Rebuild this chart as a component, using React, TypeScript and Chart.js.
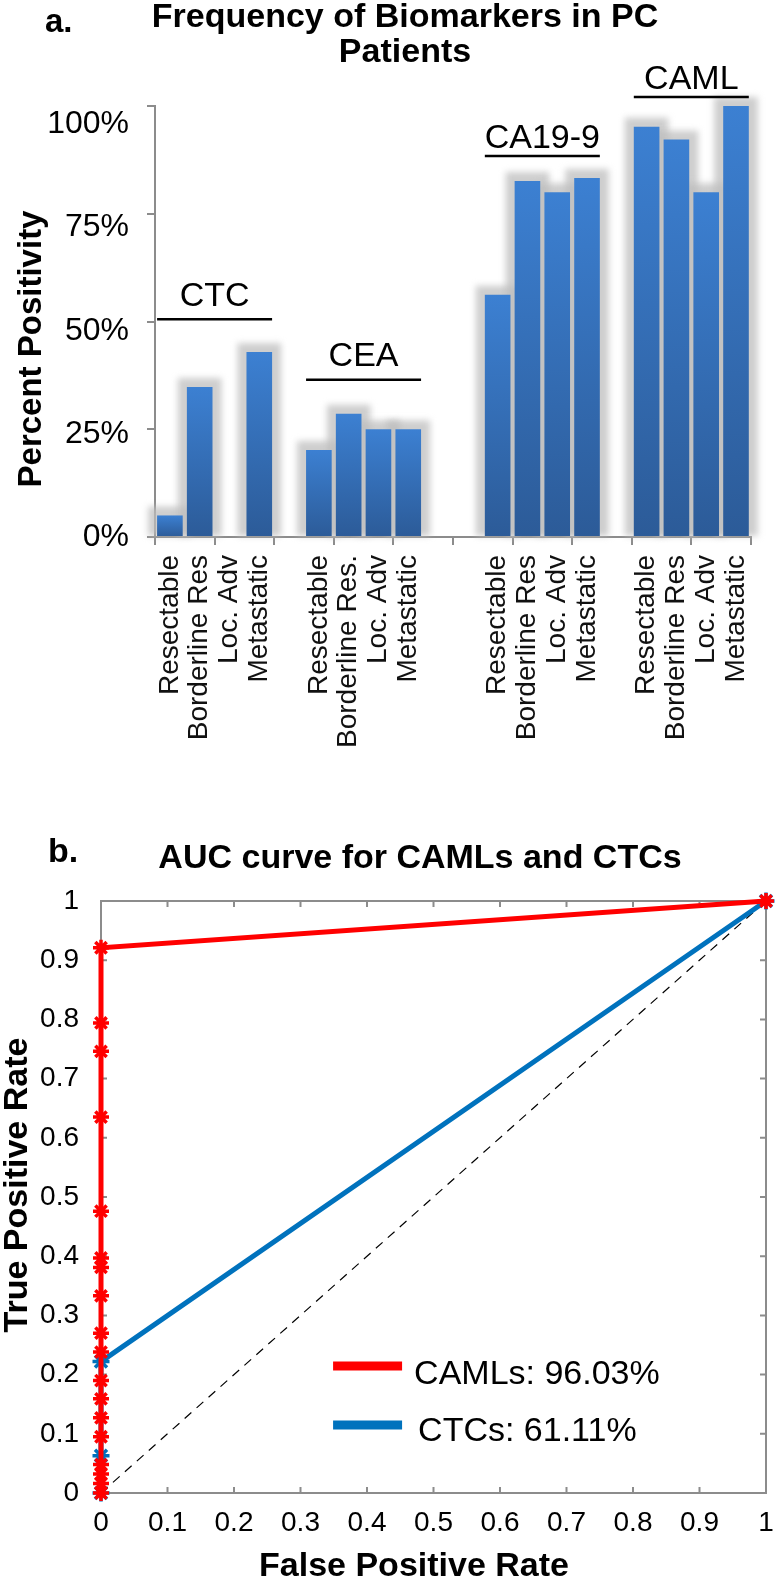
import React, { useEffect, useRef } from 'react';
import { Chart, registerables } from 'chart.js';

Chart.register(...registerables);

const FONT = "'Liberation Sans', Arial, Helvetica, sans-serif";
Chart.defaults.font.family = FONT;
Chart.defaults.color = '#000';

// ---------- Panel a: frequency of biomarkers ----------
const panelATitle = ['Frequency of Biomarkers in PC', 'Patients'];
const panelAYTitle = 'Percent Positivity';
const biomarkerNames = ['CTC', 'CEA', 'CA19-9', 'CAML'];
const stageLabels = ['Resectable', 'Borderline Res', 'Loc. Adv', 'Metastatic'];
const ceaStageLabels = ['Resectable', 'Borderline Res.', 'Loc. Adv', 'Metastatic'];
const ctcPositivity = [5, 34.8, 0, 42.9];
const ceaPositivity = [20.2, 28.6, 25, 25];
const ca199Positivity = [56.2, 82.6, 80, 83.3];
const camlPositivity = [95.2, 92.2, 80, 100];
const percentTicks = [0, 25, 50, 75, 100];
// empty category slots after each biomarker group
const gapSlotsAfter = [1, 2, 1, 0];
// group annotation: underline level (percent units) and text gap above the line
const groupLineLevels = [50.5, 36.5, 88.4, 102.1];
const groupLabelGaps = [13, 14, 8, 8];

// ---------- Panel b: ROC ----------
const panelBTitle = 'AUC curve for CAMLs and CTCs';
const rocXTitle = 'False Positive Rate';
const rocYTitle = 'True Positive Rate';
const camlLabel = 'CAMLs: 96.03%';
const ctcLabel = 'CTCs: 61.11%';
const camlFpr = [0, 0, 0, 0, 0, 0, 0, 0, 0, 0, 0, 0, 0, 0, 0, 0, 0, 0, 1];
const camlTpr = [0, 0.016, 0.032, 0.048, 0.095, 0.127, 0.159, 0.19, 0.238, 0.27, 0.333, 0.381, 0.397, 0.476, 0.635, 0.746, 0.794, 0.921, 1];
const ctcFpr = [0, 0, 0, 1];
const ctcTpr = [0, 0.063, 0.222, 1];
const chanceFpr = [0, 1];
const chanceTpr = [0, 1];
// legend anchor in data units
const legendAnchor = { x: 0.349, y: 0.2145 };

const AXIS_GRAY = '#8c8c8c';

// Build category slots
const groupSeries = [
  { labels: stageLabels, values: ctcPositivity },
  { labels: ceaStageLabels, values: ceaPositivity },
  { labels: stageLabels, values: ca199Positivity },
  { labels: stageLabels, values: camlPositivity },
];
const slotLabels: string[] = [];
const slotValues: (number | null)[] = [];
const groupStart: number[] = [];
groupSeries.forEach((g, i) => {
  groupStart.push(slotLabels.length);
  g.labels.forEach((l, j) => {
    slotLabels.push(l);
    slotValues.push(g.values[j]);
  });
  for (let k = 0; k < gapSlotsAfter[i]; k++) {
    slotLabels.push('');
    slotValues.push(null);
  }
});

const panelAPlugin = {
  id: 'panelAPlugin',
  beforeDatasetsDraw(chart: any) {
    // soft grey halo behind every bar, from the bar elements' own geometry
    const c = chart.ctx;
    const meta = chart.getDatasetMeta(0);
    c.save();
    c.fillStyle = 'rgba(190,190,190,0.75)';
    (c as any).filter = 'blur(3px)';
    meta.data.forEach((el: any, i: number) => {
      const v = slotValues[i];
      if (v == null || v === 0) return;
      const p = el.getProps(['x', 'y', 'base', 'width'], true);
      const pad = 9;
      c.fillRect(p.x - p.width / 2 - pad, p.y - pad, p.width + pad * 2, p.base - p.y + pad);
    });
    c.restore();
  },
  afterDraw(chart: any) {
    const c = chart.ctx;
    const xs = chart.scales.x;
    const ys = chart.scales.y;
    c.save();
    c.fillStyle = '#000';
    c.textBaseline = 'alphabetic';
    c.font = `bold 33px ${FONT}`;
    c.textAlign = 'left';
    c.fillText('a.', 45, 32);
    c.font = `bold 34px ${FONT}`;
    c.textAlign = 'center';
    panelATitle.forEach((t, i) => c.fillText(t, 405, 27 + i * 35));
    c.save();
    c.translate(41, 349);
    c.rotate(-Math.PI / 2);
    c.font = `bold 33px ${FONT}`;
    c.fillText(panelAYTitle, 0, 0);
    c.restore();
    biomarkerNames.forEach((name, i) => {
      const cx = xs.getPixelForValue(groupStart[i] + 1.5);
      const ly = ys.getPixelForValue(groupLineLevels[i]);
      c.strokeStyle = '#000';
      c.lineWidth = 2.5;
      c.beginPath();
      c.moveTo(cx - 57.5, ly);
      c.lineTo(cx + 57.5, ly);
      c.stroke();
      c.font = `34px ${FONT}`;
      c.textAlign = 'center';
      c.fillText(name, cx, ly - groupLabelGaps[i]);
    });
    c.restore();
  },
};

function barFill(ctx: any) {
  const chart = ctx.chart;
  if (!chart.chartArea || ctx.raw == null) return '#3a78c9';
  const ys = chart.scales.y;
  const top = ys.getPixelForValue(ctx.raw);
  const base = ys.getPixelForValue(0);
  if (!isFinite(top) || !isFinite(base) || top === base) return '#3a78c9';
  const g = chart.ctx.createLinearGradient(0, top, 0, base);
  g.addColorStop(0, '#3c80d2');
  g.addColorStop(1, '#2c5b98');
  return g;
}

function PanelA() {
  const ref = useRef<HTMLCanvasElement>(null);
  useEffect(() => {
    const chart = new Chart(ref.current as HTMLCanvasElement, {
      type: 'bar',
      data: {
        labels: slotLabels,
        datasets: [
          {
            label: 'Percent Positivity',
            data: slotValues as any,
            backgroundColor: barFill as any,
            borderWidth: 0,
            categoryPercentage: 1,
            barPercentage: 0.86,
            clip: false as any,
          },
        ],
      },
      options: {
        responsive: false,
        animation: false,
        layout: { padding: { top: 106, right: 16, bottom: 0, left: 0 } },
        plugins: { legend: { display: false }, tooltip: { enabled: false }, title: { display: false } },
        scales: {
          x: {
            type: 'category',
            offset: true,
            grid: {
              offset: true,
              drawOnChartArea: false,
              drawTicks: true,
              tickLength: 8,
              lineWidth: 2,
              color: (ctx: any) => (ctx.index === undefined || ctx.index % 2 === 0 ? AXIS_GRAY : 'rgba(0,0,0,0)'),
            },
            border: { display: true, color: AXIS_GRAY, width: 2 },
            ticks: {
              autoSkip: false,
              maxRotation: 90,
              minRotation: 90,
              padding: 10,
              color: '#111',
              font: { size: 28, family: FONT },
            },
            afterFit: (s: any) => {
              s.height = 243;
            },
          },
          y: {
            position: 'left',
            weight: 0,
            min: 0,
            max: 100,
            ticks: { stepSize: 25, display: false },
            grid: { drawOnChartArea: false, drawTicks: true, tickLength: 8, lineWidth: 2, color: AXIS_GRAY },
            border: { display: true, color: AXIS_GRAY, width: 2 },
            afterFit: (s: any) => {
              s.width = 0;
            },
          },
          yLabels: {
            position: 'left',
            weight: 1,
            min: 0,
            max: 104.5,
            grid: { display: false },
            border: { display: false },
            afterBuildTicks: (s: any) => {
              s.ticks = percentTicks.map((v) => ({ value: v }));
            },
            ticks: {
              padding: 18,
              color: '#000',
              font: { size: 32, family: FONT },
              callback: (v: any) => `${v}%`,
            },
            afterFit: (s: any) => {
              s.width = 155;
            },
          },
        },
      } as any,
      plugins: [panelAPlugin],
    });
    return () => chart.destroy();
  }, []);
  return <canvas ref={ref} width={780} height={780} style={{ display: 'block', width: 780, height: 780 }} />;
}

const panelBPlugin = {
  id: 'panelBPlugin',
  beforeDatasetsDraw(chart: any) {
    const c = chart.ctx;
    const { left, right, top, bottom } = chart.chartArea;
    const xs = chart.scales.x;
    const ys = chart.scales.y;
    c.save();
    c.strokeStyle = AXIS_GRAY;
    c.lineWidth = 2;
    c.beginPath();
    c.moveTo(left, top);
    c.lineTo(right, top);
    c.moveTo(right, top);
    c.lineTo(right, bottom);
    xs.ticks.forEach((t: any) => {
      const px = xs.getPixelForValue(t.value);
      c.moveTo(px, bottom);
      c.lineTo(px, bottom - 6);
      c.moveTo(px, top);
      c.lineTo(px, top + 6);
    });
    ys.ticks.forEach((t: any) => {
      const py = ys.getPixelForValue(t.value);
      c.moveTo(left, py);
      c.lineTo(left + 6, py);
      c.moveTo(right, py);
      c.lineTo(right - 6, py);
    });
    c.stroke();
    c.restore();
  },
  afterDraw(chart: any) {
    const c = chart.ctx;
    const xs = chart.scales.x;
    const ys = chart.scales.y;
    c.save();
    c.fillStyle = '#000';
    c.textBaseline = 'alphabetic';
    c.font = `bold 34px ${FONT}`;
    c.textAlign = 'left';
    c.fillText('b.', 48, 82);
    c.textAlign = 'center';
    c.fillText(panelBTitle, 420, 88);
    c.fillText(rocXTitle, 414, 796);
    c.save();
    c.translate(27, 405);
    c.rotate(-Math.PI / 2);
    c.fillText(rocYTitle, 0, 0);
    c.restore();
    // legend
    const lx = xs.getPixelForValue(legendAnchor.x);
    const ly = ys.getPixelForValue(legendAnchor.y);
    const items = chart.data.datasets.slice(0, 2);
    items.forEach((ds: any, i: number) => {
      const y = ly + i * 59;
      c.strokeStyle = ds.borderColor;
      c.lineWidth = 9;
      c.beginPath();
      c.moveTo(lx, y);
      c.lineTo(lx + 69, y);
      c.stroke();
      c.font = `34px ${FONT}`;
      c.textAlign = 'left';
      c.fillText(ds.label, lx + 81 + i * 4, y + 18 - i * 2);
    });
    c.restore();
  },
};

function toPoints(xs: number[], ys: number[]) {
  return xs.map((x, i) => ({ x, y: ys[i] }));
}

function PanelB() {
  const ref = useRef<HTMLCanvasElement>(null);
  useEffect(() => {
    const chart = new Chart(ref.current as HTMLCanvasElement, {
      type: 'scatter',
      data: {
        datasets: [
          {
            label: camlLabel,
            data: toPoints(camlFpr, camlTpr),
            showLine: true,
            borderColor: '#ff0000',
            backgroundColor: '#ff0000',
            borderWidth: 5,
            pointStyle: 'star',
            pointRadius: 8,
            pointBorderWidth: 3.5,
            pointBorderColor: '#ff0000',
            pointBackgroundColor: '#ff0000',
            tension: 0,
            clip: false as any,
          },
          {
            label: ctcLabel,
            data: toPoints(ctcFpr, ctcTpr),
            showLine: true,
            borderColor: '#0072bd',
            backgroundColor: '#0072bd',
            borderWidth: 5,
            pointStyle: 'star',
            pointRadius: 8.5,
            pointBorderWidth: 3.5,
            pointBorderColor: '#0072bd',
            pointBackgroundColor: '#0072bd',
            tension: 0,
            clip: false as any,
          },
          {
            label: 'chance',
            data: toPoints(chanceFpr, chanceTpr),
            showLine: true,
            borderColor: '#000',
            borderWidth: 1.2,
            borderDash: [9, 7],
            pointRadius: 0,
            clip: false as any,
          },
        ],
      },
      options: {
        responsive: false,
        animation: false,
        layout: { padding: { top: 121, right: 14, bottom: 0, left: 0 } },
        plugins: { legend: { display: false }, tooltip: { enabled: false }, title: { display: false } },
        scales: {
          x: {
            type: 'linear',
            min: 0,
            max: 1,
            grid: { display: false },
            border: { display: true, color: AXIS_GRAY, width: 2 },
            ticks: {
              stepSize: 0.1,
              padding: 5,
              color: '#000',
              font: { size: 28, family: FONT },
              callback: (v: any) => String(Math.round(Number(v) * 10) / 10),
            },
            afterFit: (s: any) => {
              s.height = 85;
            },
          },
          y: {
            type: 'linear',
            min: 0,
            max: 1,
            grid: { display: false },
            border: { display: true, color: AXIS_GRAY, width: 2 },
            ticks: {
              stepSize: 0.1,
              padding: 14,
              color: '#000',
              font: { size: 28, family: FONT },
              callback: (v: any) => String(Math.round(Number(v) * 10) / 10),
            },
            afterFit: (s: any) => {
              s.width = 101;
            },
          },
        },
      } as any,
      plugins: [panelBPlugin],
    });
    return () => chart.destroy();
  }, []);
  return <canvas ref={ref} width={780} height={798} style={{ display: 'block', width: 780, height: 798 }} />;
}

export default function App() {
  return (
    <div style={{ position: 'absolute', left: 0, top: 0, width: 780, height: 1578, background: '#fff', overflow: 'hidden' }}>
      <PanelA />
      <PanelB />
    </div>
  );
}
